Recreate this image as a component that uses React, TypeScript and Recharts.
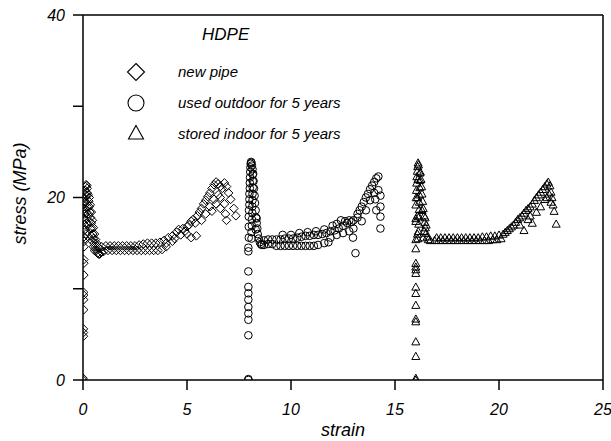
import { ScatterChart, Scatter, XAxis, YAxis, Label } from "recharts";

const FONT = '"Liberation Sans", Arial, Helvetica, sans-serif';

// strain, stress (MPa) pairs
const NEW_PIPE: [number, number][] = [
  [0, 0], [0, 0.2], [0.02, 4.8], [0.02, 5.2], [0.02, 5.6], [0.03, 7.7], [0.03, 8.8],
  [0.03, 9.3], [0.03, 9.6], [0.04, 11.5], [0.04, 12.8], [0.04, 13.2], [0.05, 14.6],
  [0.05, 15.2], [0.05, 15.7], [0.05, 16.4], [0.06, 17.0], [0.06, 17.6], [0.07, 18.2],
  [0.07, 18.8], [0.08, 19.4], [0.08, 19.9], [0.09, 20.4], [0.1, 20.8], [0.12, 21.2],
  [0.15, 21.4], [0.18, 21.3], [0.2, 21.0], [0.1, 15.5], [0.1, 16.5], [0.1, 17.5],
  [0.1, 18.5], [0.12, 19.5], [0.15, 20.2], [0.2, 20.5], [0.14, 16.0], [0.15, 17.2],
  [0.16, 18.3], [0.18, 19.4], [0.25, 20.3], [0.28, 19.6], [0.3, 19.0], [0.33, 18.4],
  [0.36, 17.8], [0.4, 17.2], [0.43, 16.6], [0.46, 16.0], [0.5, 15.5], [0.55, 15.0],
  [0.6, 14.6], [0.65, 14.2], [0.7, 13.9], [0.75, 13.8], [0.8, 13.8], [0.9, 14.0],
  [0.3, 20.0], [0.35, 19.2], [0.4, 18.4], [0.45, 17.5], [0.5, 16.7], [0.55, 16.0],
  [0.6, 15.4], [0.65, 15.0], [0.7, 14.6], [0.8, 14.4], [0.2, 19.0], [0.25, 18.2],
  [0.3, 17.4], [0.35, 16.6], [0.4, 15.8], [0.45, 15.2], [0.5, 14.6], [0.55, 14.2],
  [1.0, 14.1], [1.2, 14.2], [1.4, 14.2], [1.6, 14.2], [1.8, 14.2], [2.0, 14.2],
  [2.2, 14.2], [2.4, 14.2], [2.6, 14.2], [2.8, 14.2], [3.0, 14.2], [3.2, 14.2],
  [3.4, 14.2], [3.6, 14.2], [3.8, 14.3], [0.9, 14.6], [1.1, 14.7], [1.3, 14.7],
  [1.5, 14.7], [1.7, 14.7], [1.9, 14.7], [2.1, 14.7], [2.3, 14.7], [2.5, 14.7],
  [2.7, 14.8], [2.9, 14.9], [3.1, 15.0], [3.3, 15.0], [3.5, 15.0], [3.7, 15.1],
  [3.9, 15.3], [4.0, 15.0], [4.1, 15.6], [4.3, 15.8], [4.4, 15.5], [4.5, 16.2],
  [4.6, 16.5], [4.8, 16.6], [4.9, 16.3], [5.0, 16.8], [5.1, 17.0], [5.2, 17.4],
  [5.3, 17.6], [5.4, 17.2], [5.5, 18.0], [5.6, 18.4], [5.7, 18.8], [5.8, 19.3],
  [5.9, 19.7], [6.0, 20.1], [6.1, 20.5], [6.2, 21.0], [6.3, 21.4], [6.4, 21.7],
  [6.5, 21.5], [6.6, 21.2], [6.7, 21.0], [6.8, 21.6], [6.9, 21.2], [7.0, 20.5],
  [7.1, 19.8], [7.25, 18.8], [6.9, 17.5], [7.35, 18.0], [6.85, 18.2], [4.0, 14.6],
  [4.3, 15.2], [4.7, 15.9], [5.0, 16.0], [5.2, 15.6], [5.45, 15.8], [5.7, 17.5],
  [5.9, 18.2], [6.1, 19.0], [6.3, 19.8], [6.5, 20.3], [6.2, 18.5], [6.4, 19.3],
  [6.6, 20.0], [6.6, 18.8], [6.8, 19.3],
];

const OUTDOOR: [number, number][] = [
  [7.95, 0], [7.95, 0.1], [7.95, 4.9], [7.95, 6.6], [7.95, 7.3], [7.95, 8.0],
  [7.95, 8.8], [7.95, 9.5], [7.95, 10.2], [7.95, 11.9], [7.95, 14.1], [7.95, 14.5],
  [7.97, 15.6], [7.97, 16.8], [7.97, 17.9], [7.98, 18.6], [8.0, 19.2], [8.0, 19.8],
  [8.0, 20.4], [8.02, 21.0], [8.02, 21.6], [8.03, 22.2], [8.04, 22.8], [8.05, 23.3],
  [8.06, 23.7], [8.08, 23.9], [8.1, 23.8], [8.12, 23.5], [8.1, 15.5], [8.1, 16.2],
  [8.12, 16.9], [8.12, 17.6], [8.14, 18.3], [8.14, 19.0], [8.15, 19.7], [8.15, 20.4],
  [8.16, 21.1], [8.16, 21.8], [8.16, 22.5], [8.15, 23.1], [8.18, 22.6], [8.2, 21.8],
  [8.22, 21.0], [8.25, 20.2], [8.27, 19.4], [8.3, 18.6], [8.32, 17.8], [8.35, 17.2],
  [8.38, 16.6], [8.4, 16.0], [8.45, 15.5], [8.5, 15.1], [8.55, 14.9], [8.6, 14.8],
  [8.3, 16.5], [8.35, 17.7], [8.7, 14.8], [8.9, 14.9], [9.1, 14.9], [9.3, 14.7],
  [9.5, 14.7], [9.7, 14.7], [9.9, 14.7], [10.1, 14.7], [10.3, 14.7], [10.5, 14.7],
  [10.7, 14.7], [10.9, 14.7], [11.1, 14.7], [11.3, 14.8], [11.6, 15.0], [11.8, 15.1],
  [8.7, 15.3], [8.9, 15.4], [9.1, 15.4], [9.3, 15.4], [9.5, 15.4], [9.7, 15.5],
  [9.9, 15.5], [10.1, 15.5], [10.3, 15.6], [10.5, 15.7], [10.7, 15.8], [10.9, 15.8],
  [11.1, 15.9], [11.3, 15.9], [11.5, 16.0], [11.7, 16.1], [11.9, 16.3], [12.1, 16.4],
  [12.3, 16.6], [12.5, 16.9], [12.7, 17.2], [12.9, 17.3], [9.6, 15.9], [10.0, 15.9],
  [10.4, 16.1], [10.8, 16.2], [11.2, 16.3], [11.6, 16.5], [12.0, 16.9], [12.2, 17.1],
  [12.4, 17.5], [12.6, 17.4], [12.8, 17.5], [13.0, 17.5], [13.2, 17.8], [11.9, 15.6],
  [12.2, 15.9], [12.5, 16.1], [12.8, 16.3], [13.0, 16.6], [13.1, 13.9], [12.98, 15.6],
  [13.2, 18.2], [13.3, 18.6], [13.4, 19.0], [13.5, 19.5], [13.6, 20.0], [13.7, 20.4],
  [13.8, 20.9], [13.9, 21.3], [14.0, 21.7], [14.1, 22.1], [14.2, 22.3], [13.4, 17.4],
  [13.6, 18.6], [13.8, 19.7], [14.0, 20.5], [14.2, 20.8], [14.3, 20.2], [14.3, 19.0],
  [14.3, 17.9], [14.3, 16.6], [14.1, 18.6], [14.05, 19.8],
];

const INDOOR: [number, number][] = [
  [16.0, 0], [16.0, 0.2], [16.0, 2.6], [16.0, 4.2], [16.0, 6.4], [16.0, 6.7],
  [16.0, 8.2], [16.0, 9.5], [16.0, 10.2], [16.0, 11.7], [16.0, 12.1], [16.0, 12.4],
  [16.0, 12.8], [16.0, 14.4], [16.0, 15.4], [16.0, 17.4], [16.0, 17.7], [16.0, 19.2],
  [16.02, 20.0], [16.03, 20.8], [16.04, 21.6], [16.05, 22.3], [16.07, 22.9],
  [16.09, 23.4], [16.11, 23.8], [16.13, 23.6], [16.1, 15.5], [16.12, 16.3],
  [16.14, 17.1], [16.15, 17.9], [16.16, 18.7], [16.17, 19.5], [16.18, 20.3],
  [16.19, 21.1], [16.2, 21.9], [16.2, 22.7], [16.08, 16.0], [16.08, 18.0],
  [16.08, 20.0], [16.1, 22.0], [16.22, 22.8], [16.25, 22.0], [16.28, 21.2],
  [16.3, 20.4], [16.33, 19.6], [16.36, 18.8], [16.4, 18.0], [16.43, 17.3],
  [16.46, 16.7], [16.5, 16.1], [16.55, 15.7], [16.6, 15.4], [16.5, 17.0],
  [16.45, 17.8], [16.3, 18.6], [16.4, 16.3], [16.35, 15.6], [16.7, 15.3],
  [16.9, 15.3], [17.1, 15.3], [17.3, 15.3], [17.5, 15.3], [17.7, 15.3], [17.9, 15.3],
  [18.1, 15.3], [18.3, 15.3], [18.5, 15.3], [18.7, 15.3], [18.9, 15.3], [19.1, 15.3],
  [19.3, 15.3], [19.5, 15.3], [17.0, 15.6], [17.2, 15.6], [17.4, 15.6], [17.6, 15.6],
  [17.8, 15.6], [18.0, 15.6], [18.2, 15.6], [18.4, 15.6], [18.6, 15.6], [18.8, 15.6],
  [19.0, 15.6], [19.2, 15.7], [19.4, 15.7], [19.6, 15.8], [19.8, 15.8], [20.0, 15.9],
  [20.2, 16.0], [19.7, 15.4], [19.9, 15.4], [20.1, 15.5], [20.3, 16.2], [20.4, 16.4],
  [20.5, 16.6], [20.6, 16.8], [20.7, 17.0], [20.8, 17.3], [20.9, 17.6], [21.0, 17.8],
  [21.1, 18.0], [21.2, 18.3], [21.3, 18.6], [21.4, 18.8], [21.5, 19.0], [21.6, 19.3],
  [21.7, 19.7], [21.8, 20.0], [21.9, 20.3], [22.0, 20.6], [22.1, 20.9], [22.2, 21.2],
  [22.3, 21.5], [22.37, 21.7], [22.45, 21.3], [22.5, 20.6], [22.55, 20.0],
  [22.6, 19.2], [22.65, 18.5], [22.75, 17.1], [21.2, 16.4], [21.6, 17.2], [21.0, 17.0],
  [21.4, 17.6], [21.8, 18.4], [22.0, 19.0], [22.2, 19.8], [22.4, 20.4], [22.5, 19.5],
  [21.5, 18.0], [22.3, 20.0],
];

const X_TICKS = [0, 5, 10, 15, 20, 25];
const Y_TICKS = [0, 10, 20, 30, 40];
const Y_LABELED = [0, 20, 40];

const SERIES_NAMES = ["new pipe", "used outdoor for 5 years", "stored indoor for 5 years"];

const toPoints = (pairs: [number, number][]) => pairs.map(([x, y]) => ({ x, y }));

const Diamond = ({ cx, cy, r = 4.3, sw = 1 }: any) => (
  <path
    d={`M${cx},${cy - r}L${cx + r},${cy}L${cx},${cy + r}L${cx - r},${cy}Z`}
    fill="none"
    stroke="#000"
    strokeWidth={sw}
  />
);

const Ring = ({ cx, cy, r = 3.8, sw = 1 }: any) => (
  <circle cx={cx} cy={cy} r={r} fill="none" stroke="#000" strokeWidth={sw} />
);

const Triangle = ({ cx, cy, r = 4, sw = 1 }: any) => (
  <path
    d={`M${cx},${cy - r}L${cx + r},${cy + r * 0.8}L${cx - r},${cy + r * 0.8}Z`}
    fill="none"
    stroke="#000"
    strokeWidth={sw}
  />
);

const tickStyle = { fill: "#000", fontSize: 16, fontStyle: "italic", fontFamily: FONT };

export default function App() {
  const legendIcons = [
    <Diamond cx={9} cy={9} r={8.5} sw={1.1} />,
    <Ring cx={9} cy={9} r={8} sw={1.1} />,
    <Triangle cx={9} cy={8} r={7.5} sw={1.1} />,
  ];

  return (
    <div style={{ position: "absolute", left: 0, top: 0, width: 611, height: 441 }}>
      <ScatterChart width={611} height={441} margin={{ top: 0, right: 0, bottom: 0, left: 0 }}>
        <XAxis
          xAxisId="main"
          dataKey="x"
          type="number"
          domain={[0, 25]}
          ticks={X_TICKS}
          height={61}
          tickSize={10}
          tickMargin={14}
          axisLine={{ stroke: "#000", strokeWidth: 1.5 }}
          tickLine={{ stroke: "#000", strokeWidth: 1.5 }}
          tick={tickStyle}
          allowDataOverflow
        >
          <Label
            content={({ viewBox }: any) => (
              <text
                x={viewBox.x + viewBox.width / 2}
                y={viewBox.y + 56}
                textAnchor="middle"
                fontSize={18}
                fontStyle="italic"
                fontFamily={FONT}
                fill="#000"
              >
                strain
              </text>
            )}
          />
        </XAxis>
        <XAxis
          xAxisId="top"
          orientation="top"
          type="number"
          domain={[0, 25]}
          height={15}
          tick={false}
          tickLine={false}
          axisLine={{ stroke: "#000", strokeWidth: 1.5 }}
        />
        <YAxis
          yAxisId="main"
          dataKey="y"
          type="number"
          domain={[0, 40]}
          ticks={Y_TICKS}
          width={83}
          tickSize={10}
          tickMargin={8}
          tickFormatter={(v: number) => (Y_LABELED.includes(v) ? String(v) : "")}
          axisLine={{ stroke: "#000", strokeWidth: 1.5 }}
          tickLine={{ stroke: "#000", strokeWidth: 1.5 }}
          tick={tickStyle}
          allowDataOverflow
        >
          <Label
            content={({ viewBox }: any) => {
              const cx = 20;
              const cy = viewBox.y + viewBox.height / 2 - 4;
              return (
                <text
                  x={cx}
                  y={cy}
                  transform={`rotate(-90, ${cx}, ${cy})`}
                  textAnchor="middle"
                  dominantBaseline="central"
                  fontSize={18}
                  fontStyle="italic"
                  fontFamily={FONT}
                  fill="#000"
                >
                  stress (MPa)
                </text>
              );
            }}
          />
        </YAxis>
        <YAxis
          yAxisId="right"
          orientation="right"
          type="number"
          domain={[0, 40]}
          width={8}
          tick={false}
          tickLine={false}
          axisLine={{ stroke: "#000", strokeWidth: 1.5 }}
        />
        <Scatter
          name={SERIES_NAMES[0]}
          data={toPoints(NEW_PIPE)}
          xAxisId="main"
          yAxisId="main"
          shape={(p: any) => <Diamond cx={p.cx} cy={p.cy} />}
          isAnimationActive={false}
        />
        <Scatter
          name={SERIES_NAMES[1]}
          data={toPoints(OUTDOOR)}
          xAxisId="main"
          yAxisId="main"
          shape={(p: any) => <Ring cx={p.cx} cy={p.cy} />}
          isAnimationActive={false}
        />
        <Scatter
          name={SERIES_NAMES[2]}
          data={toPoints(INDOOR)}
          xAxisId="main"
          yAxisId="main"
          shape={(p: any) => <Triangle cx={p.cx} cy={p.cy} />}
          isAnimationActive={false}
        />
      </ScatterChart>

      <div
        style={{
          position: "absolute",
          left: 202,
          top: 25,
          fontFamily: FONT,
          fontStyle: "italic",
          fontSize: 17,
          lineHeight: "20px",
        }}
      >
        HDPE
      </div>
      {SERIES_NAMES.map((name, i) => (
        <div
          key={name}
          style={{
            position: "absolute",
            left: 127,
            top: 63 + i * 31,
            display: "flex",
            alignItems: "center",
            fontFamily: FONT,
            fontStyle: "italic",
            fontSize: 15,
            lineHeight: "18px",
          }}
        >
          <svg width={18} height={18} style={{ overflow: "visible" }}>
            {legendIcons[i]}
          </svg>
          <span style={{ marginLeft: 33 }}>{name}</span>
        </div>
      ))}
    </div>
  );
}
